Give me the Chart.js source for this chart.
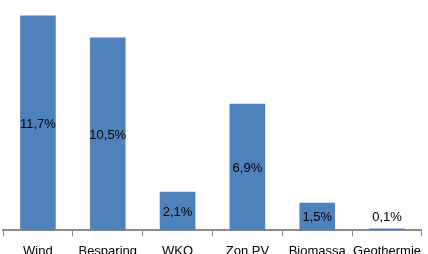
<!DOCTYPE html>
<html>
<head>
<meta charset="utf-8">
<script src="https://cdn.jsdelivr.net/npm/chart.js@4/dist/chart.umd.min.js"></script>
<style>
  html, body { margin: 0; padding: 0; background: #fff; overflow: hidden; }
  #wrap { position: relative; width: 428px; height: 266px; }
</style>
</head>
<body>
<div id="wrap"><canvas id="chart"></canvas></div>
<script>
// categorieen en waarden (aandeel in %)
const categories = ['Wind', 'Besparing', 'WKO', 'Zon PV', 'Biomassa', 'Geothermie'];
const values = [11.7, 10.5, 2.1, 6.9, 1.5, 0.1];

// labels in het midden van de balk, of erboven als de balk te laag is
const barLabels = {
    id: 'barLabels',
    afterDatasetsDraw(chart) {
        const ctx = chart.ctx;
        const meta = chart.getDatasetMeta(0);
        ctx.save();
        ctx.font = '13px "Liberation Sans", Arial, sans-serif';
        ctx.fillStyle = '#000';
        ctx.textAlign = 'center';
        ctx.textBaseline = 'middle';
        meta.data.forEach((bar, i) => {
            const text = values[i].toFixed(1).replace('.', ',') + '%';
            const h = bar.base - bar.y;
            let y = bar.y + h / 2 + 1;
            if (h < 16) y = bar.y - 11;
            ctx.fillText(text, bar.x, y);
        });
        ctx.restore();
    }
};

const ctx = document.getElementById('chart').getContext('2d');
new Chart(ctx, {
    type: 'bar',
    data: {
        labels: categories,
        datasets: [{
            data: values,
            backgroundColor: '#4F81BD',
            borderWidth: 0,
            categoryPercentage: 1,
            barPercentage: 0.51
        }]
    },
    options: {
        responsive: true,
        maintainAspectRatio: false,
        animation: false,
        layout: { padding: { left: 3, right: 0, top: 10, bottom: 0 } },
        plugins: {
            legend: { display: false },
            tooltip: { enabled: false }
        },
        scales: {
            x: {
                grid: {
                    drawOnChartArea: false,
                    drawTicks: true,
                    tickLength: 6,
                    color: '#8c8c8c',
                    offset: true
                },
                border: { color: '#8c8c8c', width: 2 },
                ticks: {
                    color: '#000',
                    padding: 7,
                    maxRotation: 0,
                    autoSkip: false,
                    font: { family: '"Liberation Sans", Arial, sans-serif', size: 13 }
                }
            },
            y: {
                display: false,
                min: 0,
                max: 12
            }
        }
    },
    plugins: [barLabels]
});
</script>
</body>
</html>
